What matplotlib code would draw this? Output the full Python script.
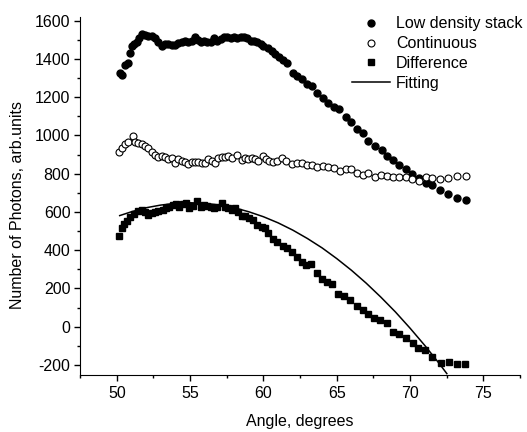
import matplotlib
matplotlib.use("Agg")
import matplotlib.pyplot as plt
from matplotlib.ticker import MultipleLocator

plt.rcParams['font.family'] = ['Liberation Sans', 'DejaVu Sans']
plt.rcParams['font.size'] = 11.5
plt.rcParams['axes.unicode_minus'] = False

# Low density stack (filled circles)
stack_x = [50.23, 50.38, 50.57, 50.75, 50.91, 51.02, 51.18, 51.36, 51.54, 51.70,
           51.93, 52.15, 52.39, 52.61, 52.84, 53.07, 53.29, 53.52, 53.75, 53.97,
           54.20, 54.43, 54.66, 54.88, 55.10, 55.35, 55.56, 55.73, 55.95, 56.18,
           56.40, 56.63, 56.86, 57.09, 57.31, 57.54, 57.77, 58.00, 58.22, 58.45,
           58.68, 58.90, 59.13, 59.36, 59.58, 59.82, 60.00, 60.28, 60.57, 60.80,
           61.08, 61.32, 61.59, 62.00, 62.31, 62.61, 62.99, 63.29, 63.67, 64.04,
           64.42, 64.81, 65.17, 65.63, 65.95, 66.40, 66.77, 67.15, 67.61, 68.06,
           68.45, 68.85, 69.26, 69.70, 70.15, 70.60, 71.06, 71.51, 72.04, 72.60,
           73.18, 73.79]
stack_y = [1326, 1317, 1369, 1378, 1430, 1469, 1479, 1491, 1509, 1531,
           1526, 1521, 1521, 1509, 1491, 1469, 1479, 1479, 1474, 1474,
           1483, 1491, 1496, 1486, 1496, 1514, 1500, 1486, 1496, 1491,
           1486, 1509, 1496, 1503, 1514, 1514, 1509, 1514, 1509, 1514,
           1514, 1509, 1496, 1496, 1491, 1479, 1465, 1457, 1442, 1425,
           1412, 1395, 1378, 1329, 1312, 1294, 1270, 1259, 1224, 1195,
           1172, 1151, 1137, 1098, 1072, 1032, 1015, 973, 945, 924,
           893, 872, 846, 823, 798, 776, 753, 739, 715, 694,
           674, 662]

# Continuous (open circles)
cont_x = [50.18, 50.34, 50.57, 50.79, 51.09, 51.25, 51.47, 51.70, 51.93, 52.15,
          52.39, 52.61, 52.84, 53.07, 53.29, 53.52, 53.75, 53.97, 54.20, 54.43,
          54.66, 54.88, 55.10, 55.34, 55.56, 55.79, 56.02, 56.24, 56.47, 56.70,
          56.93, 57.16, 57.38, 57.61, 57.84, 58.18, 58.52, 58.75, 58.97, 59.20,
          59.43, 59.65, 59.95, 60.18, 60.40, 60.63, 60.90, 61.25, 61.54, 61.93,
          62.27, 62.61, 62.95, 63.29, 63.67, 64.04, 64.42, 64.81, 65.22, 65.61,
          65.97, 66.37, 66.77, 67.15, 67.61, 68.02, 68.40, 68.81, 69.24, 69.70,
          70.15, 70.61, 71.06, 71.51, 72.04, 72.60, 73.18, 73.79]
cont_y = [915, 933, 955, 967, 997, 967, 962, 955, 945, 933,
          915, 898, 886, 893, 886, 875, 881, 858, 875, 868,
          863, 851, 863, 863, 863, 858, 858, 875, 868, 858,
          881, 889, 886, 893, 881, 898, 872, 881, 875, 881,
          875, 868, 893, 875, 868, 863, 868, 881, 868, 851,
          858, 855, 846, 846, 833, 840, 833, 828, 816, 823,
          823, 805, 793, 802, 784, 793, 788, 784, 784, 781,
          771, 763, 781, 776, 772, 776, 788, 788]

# Difference (filled squares)
diff_x = [50.18, 50.34, 50.50, 50.72, 50.91, 51.18, 51.47, 51.70, 51.93, 52.15,
          52.39, 52.61, 52.84, 53.14, 53.36, 53.59, 53.82, 54.04, 54.27, 54.50,
          54.72, 54.95, 55.18, 55.49, 55.73, 55.95, 56.18, 56.40, 56.63, 56.86,
          57.16, 57.38, 57.61, 57.84, 58.06, 58.29, 58.52, 58.75, 59.04, 59.31,
          59.58, 59.88, 60.11, 60.33, 60.63, 60.95, 61.32, 61.63, 61.93, 62.27,
          62.61, 62.90, 63.22, 63.63, 63.97, 64.31, 64.66, 65.11, 65.49, 65.90,
          66.35, 66.77, 67.15, 67.54, 67.95, 68.40, 68.81, 69.27, 69.72, 70.18,
          70.56, 71.02, 71.47, 72.09, 72.67, 73.22, 73.74]
diff_y = [475, 517, 535, 552, 575, 587, 605, 610, 598, 584,
          593, 598, 605, 610, 619, 627, 636, 640, 627, 640,
          645, 622, 632, 657, 627, 636, 632, 627, 622, 627,
          645, 627, 619, 610, 622, 601, 580, 580, 570, 558,
          531, 523, 514, 488, 457, 444, 421, 409, 392, 362,
          339, 322, 327, 279, 252, 235, 223, 170, 160, 139,
          107, 86, 65, 48, 34, 20, -27, -39, -57, -85,
          -109, -123, -158, -190, -184, -193, -196]

# Fitting curve
fit_x = [50.2, 51, 52, 53, 54, 55, 56, 57, 58, 59, 60, 61, 62, 63, 64, 65,
         66, 67, 68, 69, 70, 71, 72, 72.5]
fit_y = [581, 601, 622, 636, 645, 648, 645, 636, 622, 601, 575, 543, 505, 461,
         412, 356, 295, 228, 155, 77, -8, -98, -194, -245]

fig = plt.figure(figsize=(5.27, 4.32), dpi=100)
ax = fig.add_axes([0.152, 0.133, 0.835, 0.828])

ax.plot(stack_x, stack_y, 'o', color='black', markersize=5, label='Low density stack')
ax.plot(cont_x, cont_y, 'o', markerfacecolor='white', markeredgecolor='black',
        markeredgewidth=0.8, markersize=5, label='Continuous')
ax.plot(diff_x, diff_y, 's', color='black', markersize=4.5, label='Difference')
ax.plot(fit_x, fit_y, '-', color='black', linewidth=1.1, label='Fitting')

ax.set_xlim(47.5, 77.5)
ax.set_ylim(-250, 1620)
ax.xaxis.set_major_locator(MultipleLocator(5))
ax.xaxis.set_minor_locator(MultipleLocator(2.5))
ax.yaxis.set_major_locator(MultipleLocator(200))
ax.yaxis.set_minor_locator(MultipleLocator(100))
ax.tick_params(which='both', direction='out', width=1, labelsize=11.5)
ax.tick_params(which='major', length=4, pad=3)
ax.tick_params(axis='x', which='major', pad=4.5)
ax.tick_params(which='minor', length=2.5)

ax.spines['top'].set_visible(False)
ax.spines['right'].set_visible(False)

ax.set_xlabel('Angle, degrees', fontsize=11.5, labelpad=9)
ax.set_ylabel('Number of Photons, arb.units', fontsize=11.5)
ax.yaxis.set_label_coords(-0.125, 0.474)

fig.legend(loc='upper left', bbox_to_anchor=(0.668, 0.962), frameon=False,
           handlelength=2.4, handletextpad=0.35, labelspacing=0.3,
           borderpad=0, borderaxespad=0, fontsize=11.5)

fig.savefig('out.png', dpi=100)
